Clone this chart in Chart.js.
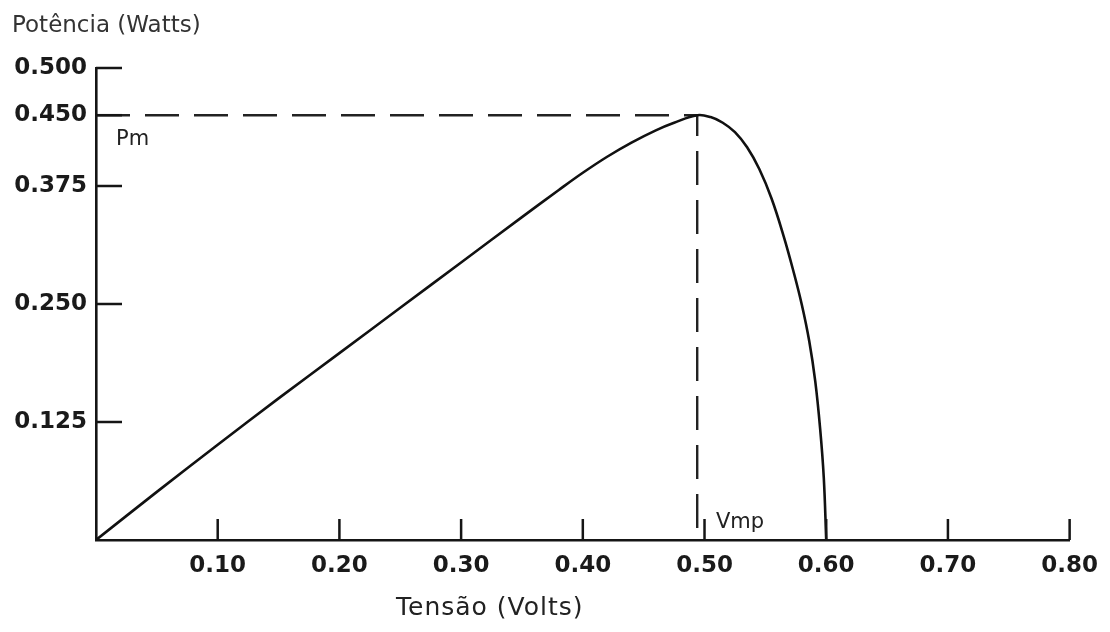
<!DOCTYPE html>
<html>
<head>
<meta charset="utf-8">
<script src="https://cdn.jsdelivr.net/npm/chart.js@4/dist/chart.umd.min.js"></script>
<style>
body{margin:0;background:#fff;}
#box{width:1110px;height:632px;position:relative;}
</style>
</head>
<body>
<div id="box"><canvas id="grafico"></canvas></div>
<script>
/* ============================= */
/* DATOS */
/* ============================= */

const tension = [0, 0.05, 0.10, 0.15, 0.20, 0.25, 0.30, 0.35, 0.38, 0.40, 0.42, 0.44, 0.46, 0.475, 0.494, 0.505, 0.515, 0.525, 0.535, 0.545, 0.555, 0.565, 0.573, 0.58, 0.586, 0.591, 0.595, 0.598, 0.60];
const potencia = [0, 0.051, 0.101, 0.150, 0.198, 0.246, 0.294, 0.342, 0.3705, 0.389, 0.406, 0.421, 0.434, 0.442, 0.450, 0.448, 0.442, 0.432, 0.416, 0.393, 0.362, 0.322, 0.285, 0.249, 0.211, 0.168, 0.118, 0.066, 0];

const Vmp = 0.494;
const Pm = 0.450;

const ticksX = [0.10, 0.20, 0.30, 0.40, 0.50, 0.60, 0.70, 0.80];
const ticksY = [0.125, 0.250, 0.375, 0.450, 0.500];

const puntosCurva = tension.map((v, i) => ({x: v, y: potencia[i]}));
const puntosGuia = [{x: 0, y: Pm}, {x: Vmp, y: Pm}, {x: Vmp, y: 0}];

/* ============================= */
/* MARCAS Y TEXTOS */
/* ============================= */

const marcas = {
  id: "marcas",
  afterDraw(chart){
    const ctx = chart.ctx;
    const sx = chart.scales.x;
    const sy = chart.scales.y;
    const area = chart.chartArea;

    ctx.save();
    ctx.strokeStyle = "#151515";
    ctx.lineWidth = 2.5;

    // ticks hacia adentro
    ticksX.forEach(v => {
      const px = sx.getPixelForValue(v);
      ctx.beginPath();
      ctx.moveTo(px, area.bottom);
      ctx.lineTo(px, area.bottom - 21);
      ctx.stroke();
    });
    ticksY.forEach(v => {
      const py = sy.getPixelForValue(v);
      ctx.beginPath();
      ctx.moveTo(area.left, py);
      ctx.lineTo(area.left + 26, py);
      ctx.stroke();
    });

    // textos
    ctx.fillStyle = "#333";
    ctx.textBaseline = "alphabetic";
    ctx.textAlign = "left";
    ctx.font = "23px 'DejaVu Sans'";
    ctx.fillText("Potência (Watts)", 12, 32);

    ctx.fillStyle = "#222";
    ctx.font = "25px 'DejaVu Sans'";
    ctx.letterSpacing = "1px";
    ctx.fillText("Tensão (Volts)", 396, 615);
    ctx.letterSpacing = "0px";

    ctx.font = "21px 'DejaVu Sans'";
    ctx.fillText("Pm", 116, 145);
    ctx.fillText("Vmp", 716, 528);

    ctx.restore();
  }
};

/* ============================= */
/* GRAFICO */
/* ============================= */

new Chart(document.getElementById("grafico"), {

type: "line",

data: {
  datasets: [
    {
      data: puntosCurva,
      borderColor: "#111",
      borderWidth: 2.6,
      pointRadius: 0,
      fill: false,
      tension: 0.4
    },
    {
      data: puntosGuia,
      borderColor: "#222",
      borderWidth: 2.4,
      borderDash: [34, 15],
      pointRadius: 0,
      fill: false,
      tension: 0
    }
  ]
},

options: {
  responsive: true,
  maintainAspectRatio: false,
  animation: false,
  layout: {padding: {top: 68, right: 39, left: 0, bottom: 0}},
  plugins: {
    legend: {display: false},
    tooltip: {enabled: false}
  },
  scales: {
    x: {
      type: "linear",
      min: 0,
      max: 0.8,
      afterFit: s => { s.height = 92; },
      afterBuildTicks: s => { s.ticks = ticksX.map(v => ({value: v})); },
      grid: {display: false, drawTicks: false},
      border: {display: true, color: "#151515", width: 2.6},
      ticks: {
        autoSkip: false,
        maxRotation: 0,
        padding: 12,
        color: "#1a1a1a",
        font: {family: "DejaVu Sans", size: 23, weight: "bold"},
        callback: v => v.toFixed(2)
      }
    },
    y: {
      type: "linear",
      min: 0,
      max: 0.5,
      afterFit: s => { s.width = 96; },
      afterBuildTicks: s => { s.ticks = ticksY.map(v => ({value: v})); },
      grid: {display: false, drawTicks: false},
      border: {display: true, color: "#151515", width: 2.6},
      ticks: {
        autoSkip: false,
        padding: 9,
        color: "#1a1a1a",
        font: {family: "DejaVu Sans", size: 23, weight: "bold"},
        callback: v => v.toFixed(3)
      }
    }
  }
},

plugins: [marcas]

});
</script>
</body>
</html>
